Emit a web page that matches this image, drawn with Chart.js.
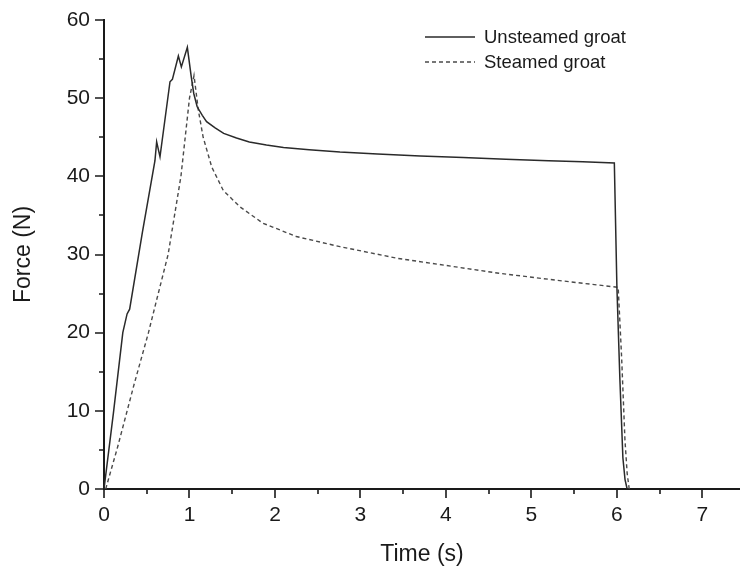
<!DOCTYPE html>
<html>
<head>
<meta charset="utf-8">
<title>Force vs time</title>
<script src="https://cdn.jsdelivr.net/npm/chart.js@4.4.0/dist/chart.umd.min.js"></script>
<style>
  html, body { margin: 0; padding: 0; background: #fff; }
  .wrap { position: relative; width: 740px; height: 572px; }
  #forceChart { display: block; }
  .legend {
    position: absolute;
    left: 425px;
    top: 24px;
    font-family: "Liberation Sans", Arial, sans-serif;
    font-size: 18.5px;
    color: #1a1a1a;
  }
  .legend-item { display: flex; align-items: center; height: 25px; }
  .legend-item svg { margin-right: 9px; }
</style>
</head>
<body>
<div class="wrap">
  <canvas id="forceChart" width="740" height="572"></canvas>
  <div class="legend" id="legend"></div>
</div>
<script>
// values
const seriesNames = ['Unsteamed groat', 'Steamed groat'];

const unsteamedTime = [0, 0.11, 0.22, 0.27, 0.30, 0.45, 0.596, 0.616, 0.655, 0.772, 0.80, 0.87, 0.905, 0.975,
  1.02, 1.05, 1.09, 1.15, 1.2, 1.3, 1.4, 1.55, 1.7, 1.9, 2.1, 2.4, 2.76, 3.2, 3.7, 4.2, 4.7, 5.2, 5.6, 5.97,
  6.0, 6.035, 6.07, 6.095, 6.12];
const unsteamedForce = [0, 9.7, 20.0, 22.4, 23.0, 32.9, 42.0, 44.4, 42.5, 52.1, 52.4, 55.4, 54.0, 56.5,
  52.8, 50.6, 48.9, 47.8, 47.0, 46.2, 45.5, 44.9, 44.4, 44.0, 43.7, 43.4, 43.1, 42.85, 42.6, 42.4, 42.2, 42.0, 41.85, 41.7,
  25.8, 14.0, 4.0, 1.2, 0];

const steamedTime = [0.02, 0.16, 0.35, 0.52, 0.616, 0.75, 0.90, 1.0, 1.053, 1.103, 1.16, 1.26, 1.395, 1.59,
  1.86, 2.25, 2.76, 3.44, 4.0, 4.62, 5.3, 6.015, 6.055, 6.094, 6.12, 6.144];
const steamedForce = [0, 5.4, 13.3, 20.0, 24.2, 30.0, 40.0, 50.0, 52.9, 48.5, 45.0, 41.2, 38.2, 36.1,
  34.0, 32.3, 31.0, 29.5, 28.6, 27.6, 26.7, 25.8, 16.9, 6.3, 2.0, 0];

// tick positions (all marks) and the ones that carry a label
const xTickValues = [0, 0.5, 1, 1.5, 2, 2.5, 3, 3.5, 4, 4.5, 5, 5.5, 6, 6.5, 7];
const xTickLabels = [0, 1, 2, 3, 4, 5, 6, 7];
const yTickValues = [0, 5, 10, 15, 20, 25, 30, 35, 40, 45, 50, 55, 60];
const yTickLabels = [0, 10, 20, 30, 40, 50, 60];

const FONT = '"Liberation Sans", Arial, sans-serif';
const INK = '#1a1a1a';

function toPoints(xs, ys) {
  return xs.map((x, i) => ({ x, y: ys[i] }));
}

// major / minor outward tick marks
const tickMarks = {
  id: 'tickMarks',
  afterDraw(chart) {
    const { ctx, scales: { x, y } } = chart;
    ctx.save();
    ctx.strokeStyle = INK;
    ctx.lineWidth = 1.6;
    ctx.beginPath();
    x.ticks.forEach((t) => {
      const px = Math.round(x.getPixelForValue(t.value));
      const len = xTickLabels.includes(t.value) ? 9 : 5;
      ctx.moveTo(px, y.bottom);
      ctx.lineTo(px, y.bottom + len);
    });
    y.ticks.forEach((t) => {
      const py = Math.round(y.getPixelForValue(t.value));
      const len = yTickLabels.includes(t.value) ? 9 : 5;
      ctx.moveTo(x.left, py);
      ctx.lineTo(x.left - len, py);
    });
    ctx.stroke();
    ctx.restore();
  }
};

const chart = new Chart(document.getElementById('forceChart'), {
  type: 'line',
  data: {
    datasets: [
      {
        label: seriesNames[0],
        data: toPoints(unsteamedTime, unsteamedForce),
        borderColor: '#2a2a2a',
        borderWidth: 1.5,
        pointRadius: 0,
        tension: 0,
        fill: false,
        clip: 4
      },
      {
        label: seriesNames[1],
        data: toPoints(steamedTime, steamedForce),
        borderColor: '#4a4a4a',
        borderWidth: 1.4,
        borderDash: [4, 3],
        pointRadius: 0,
        tension: 0,
        fill: false,
        clip: 4
      }
    ]
  },
  options: {
    responsive: false,
    devicePixelRatio: 1,
    animation: false,
    events: [],
    layout: { padding: { left: 6, top: 0, right: 0, bottom: 0 } },
    plugins: {
      legend: { display: false },
      tooltip: { enabled: false }
    },
    scales: {
      x: {
        type: 'linear',
        min: 0,
        max: 7.44,
        afterBuildTicks: (scale) => {
          scale.ticks = xTickValues.map((v) => ({ value: v }));
        },
        afterFit: (scale) => { scale.height = 83; },
        grid: { display: true, drawOnChartArea: false, drawTicks: false },
        border: { display: true, color: INK, width: 2 },
        ticks: {
          padding: 14,
          maxRotation: 0,
          autoSkip: false,
          color: INK,
          font: { family: FONT, size: 21 },
          callback: (v) => (xTickLabels.includes(v) ? String(v) : '')
        },
        title: {
          display: true,
          text: 'Time (s)',
          color: INK,
          font: { family: FONT, size: 23 }
        }
      },
      y: {
        min: 0,
        max: 60,
        afterBuildTicks: (scale) => {
          scale.ticks = yTickValues.map((v) => ({ value: v }));
        },
        afterFit: (scale) => {
          scale.width = 98;
          scale.paddingTop = 20;
        },
        grid: { display: true, drawOnChartArea: false, drawTicks: false },
        border: { display: true, color: INK, width: 2 },
        ticks: {
          padding: 14,
          autoSkip: false,
          color: INK,
          font: { family: FONT, size: 21 },
          callback: (v) => (yTickLabels.includes(v) ? String(v) : '')
        },
        title: {
          display: true,
          text: 'Force (N)',
          color: INK,
          font: { family: FONT, size: 23 }
        }
      }
    }
  },
  plugins: [tickMarks]
});

// html legend built from the datasets
const legendBox = document.getElementById('legend');
chart.data.datasets.forEach((ds) => {
  const row = document.createElement('div');
  row.className = 'legend-item';
  const dash = ds.borderDash ? ds.borderDash.join(' ') : 'none';
  row.innerHTML = `
    <svg width="50" height="4"><line x1="0" y1="2" x2="50" y2="2" stroke="${ds.borderColor}" stroke-width="1.3" stroke-dasharray="${dash}"/></svg>
    <span>${ds.label}</span>
  `;
  legendBox.appendChild(row);
});
</script>
</body>
</html>
